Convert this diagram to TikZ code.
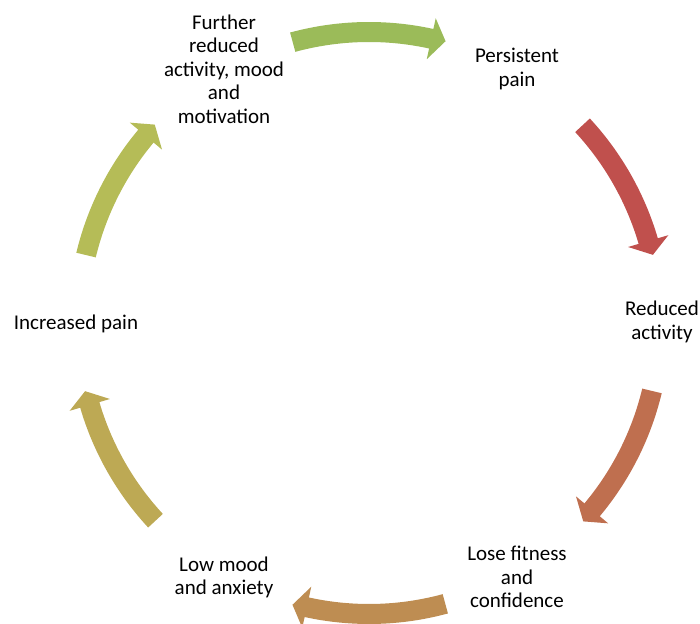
\documentclass[tikz,border=0pt]{standalone}
\usepackage{fontspec}
\setmainfont{Carlito}
\usetikzlibrary{calc}

% colour ramp of the cycle, red through to green
\definecolor{cycA}{HTML}{C0504D}
\definecolor{cycB}{HTML}{BF6F4F}
\definecolor{cycC}{HTML}{BE8D52}
\definecolor{cycD}{HTML}{BDA954}
\definecolor{cycE}{HTML}{B5BC57}
\definecolor{cycF}{HTML}{9BBB59}

% curved block arrow on the ring: #1 tail angle, #2 tip angle, #3 colour
\newcommand\cyclearrow[3]{%
  \fill[#3]
    ($(O)+(#1:301)$) arc[start angle=#1, end angle=#2+2.85, radius=301]
    -- ($(O)+(#2+2.85:312)$)
    -- ($(O)+(#2:292)$)
    -- ($(O)+(#2+2.85:270)$)
    -- ($(O)+(#2+2.85:281)$) arc[start angle=#2+2.85, end angle=#1, radius=281]
    -- cycle;
}

\begin{document}
\begin{tikzpicture}[x=1pt,y=1pt,
  lbl/.style={align=center, inner sep=0pt, text=black,
    font=\fontsize{21}{23.5}\selectfont}]
\useasboundingbox (0,0) rectangle (700,623);
\clip (0,0) rectangle (700,623);
\coordinate (O) at (369,300);

% ring of arrows
\cyclearrow{105.2}{74.8}{cycF}
\cyclearrow{42.8}{13.5}{cycA}
\cyclearrow{-13.5}{-42.8}{cycB}
\cyclearrow{-74.8}{-105.2}{cycC}
\cyclearrow{-137.2}{-166.5}{cycD}
\cyclearrow{166.5}{137.2}{cycE}

% stages of the cycle
\node[lbl] (pp) at (517,554) {Persistent\\pain};
\node[lbl] (ra) at (662,301) {Reduced\\activity};
\node[lbl] (lf) at (517,46) {Lose fitness\\and\\confidence};
\node[lbl] (lm) at (224,45.5) {Low mood\\and anxiety};
\node[lbl] (ip) at (76,299) {Increased pain};
\node[lbl] (fr) at (224,554) {Further\\reduced\\activity, mood\\and\\motivation};
\end{tikzpicture}
\end{document}
